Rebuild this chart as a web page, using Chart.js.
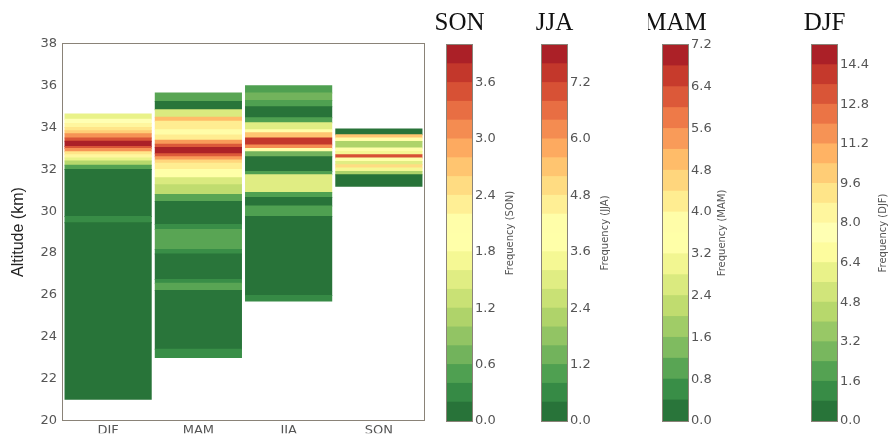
<!DOCTYPE html>
<html>
<head>
<meta charset="utf-8">
<script src="https://cdn.jsdelivr.net/npm/chart.js@4.4.0/dist/chart.umd.min.js"></script>
<style>
  body { margin: 0; background: #fff; }
  #wrap { position: relative; width: 892px; height: 434px; overflow: hidden; }
  canvas { position: absolute; top: 0; }
</style>
</head>
<body>
<div id="wrap">
  <canvas id="main" width="432" height="434" style="left:0px"></canvas>
  <canvas id="cbSON" width="95" height="434" style="left:432px"></canvas>
  <canvas id="cbJJA" width="95" height="434" style="left:527px"></canvas>
  <canvas id="cbMAM" width="95" height="434" style="left:648px"></canvas>
  <canvas id="cbDJF" width="95" height="434" style="left:797px"></canvas>
</div>
<script>
// columns of the main plot
const seasons = ["DJF", "MAM", "JJA", "SON"];

// altitude band edges (km, bottom to top) and frequency inside each band
const djfEdges = [21.0, 29.45, 29.75, 32.0, 32.2, 32.4, 32.55, 32.7, 32.85, 33.0, 33.1, 33.35, 33.5, 33.7, 33.85, 34.0, 34.2, 34.4, 34.65];
const djfFreq = [0.4, 1.2, 0.4, 2.0, 4.0, 6.0, 8.0, 9.5, 11.5, 13.0, 14.8, 13.5, 11.8, 10.0, 8.8, 8.0, 7.2, 6.0];

const mamEdges = [23.0, 23.4, 26.2, 26.55, 26.73, 27.95, 28.17, 29.12, 29.36, 30.46, 30.8, 31.27, 31.6, 32.0, 32.3, 32.45, 32.6, 32.75, 33.05, 33.2, 33.4, 33.65, 33.9, 34.3, 34.5, 34.85, 35.25, 35.65];
const mamFreq = [0.7, 0.2, 0.9, 0.6, 0.2, 0.5, 1.0, 0.5, 0.2, 1.2, 2.2, 2.8, 3.4, 4.0, 4.8, 5.6, 6.2, 7.0, 6.2, 5.4, 4.0, 3.6, 4.0, 5.0, 2.8, 0.2, 0.9];

const jjaEdges = [25.7, 25.97, 29.75, 30.25, 30.65, 30.9, 31.75, 31.9, 32.6, 32.85, 33.0, 33.17, 33.5, 33.75, 33.9, 34.23, 34.47, 35.0, 35.3, 35.65, 36.0];
const jjaFreq = [0.6, 0.3, 1.0, 0.3, 1.2, 3.0, 1.2, 0.3, 1.4, 4.2, 6.0, 7.6, 5.6, 4.0, 3.0, 1.2, 0.3, 0.9, 1.3, 1.1];

const sonEdges = [31.19, 31.75, 31.9, 32.07, 32.22, 32.38, 32.54, 32.7, 32.86, 33.02, 33.34, 33.5, 33.66, 33.93];
const sonFreq = [0.1, 1.0, 1.7, 2.5, 1.5, 1.9, 3.4, 1.6, 2.0, 1.0, 2.0, 2.6, 0.1];

// colour bar scales, in the order of the seasons array
const cbMax = [15.2, 7.2, 8.0, 4.0];
const cbLevels = [19, 18, 20, 20];
const cbTickStep = [1.6, 0.8, 1.2, 0.6];

// altitude axis
const altMin = 20, altMax = 38, altStep = 2;

// RdYlGn reversed
const rdylgnR = ["#006837", "#1a9850", "#66bd63", "#a6d96a", "#d9ef8b", "#ffffbf",
                 "#fee08b", "#fdae61", "#f46d43", "#d73027", "#a50026"];

function hexRgb(h) {
  return [parseInt(h.substr(1, 2), 16), parseInt(h.substr(3, 2), 16), parseInt(h.substr(5, 2), 16)];
}

// the picture is washed out and a bit warm, so pull colours to grey and cut some blue
function cmap(t) {
  const pos = Math.min(Math.max(t, 0), 1) * (rdylgnR.length - 1);
  const i = Math.min(Math.floor(pos), rdylgnR.length - 2);
  const f = pos - i;
  const a = hexRgb(rdylgnR[i]), b = hexRgb(rdylgnR[i + 1]);
  const c = a.map((v, k) => v + (b[k] - v) * f);
  const lum = 0.299 * c[0] + 0.587 * c[1] + 0.114 * c[2];
  const lift = [18, 8, 0];
  const out = c.map((v, k) => Math.min(255, 0.78 * v + 0.22 * lum + lift[k]));
  out[2] *= 0.88;
  return "rgb(" + out.map(v => Math.round(v)).join(",") + ")";
}

function levelColor(v, vmax, n) {
  let i = Math.floor(v / (vmax / n));
  i = Math.min(Math.max(i, 0), n - 1);
  return cmap((i + 0.5) / n);
}

// thin grey box round the plot area
const frame = {
  id: "frame",
  afterDatasetsDraw(chart) {
    const { ctx, chartArea: a } = chart;
    ctx.save();
    ctx.strokeStyle = "#8a8378";
    ctx.lineWidth = 1;
    ctx.strokeRect(Math.round(a.left) - 0.5, Math.round(a.top) - 0.5,
                   Math.round(a.right - a.left) + 1, Math.round(a.bottom - a.top) + 1);
    ctx.restore();
  }
};

// main plot
const bands = [
  { edges: djfEdges, freq: djfFreq },
  { edges: mamEdges, freq: mamFreq },
  { edges: jjaEdges, freq: jjaFreq },
  { edges: sonEdges, freq: sonFreq }
];

const mainSets = [];
bands.forEach((s, col) => {
  s.freq.forEach((f, i) => {
    const data = seasons.map(() => null);
    data[col] = [s.edges[i], s.edges[i + 1]];
    mainSets.push({
      data: data,
      backgroundColor: levelColor(f, cbMax[col], cbLevels[col]),
      borderWidth: 0,
      inflateAmount: 0.5,
      categoryPercentage: 1,
      barPercentage: 0.955
    });
  });
});

new Chart(document.getElementById("main"), {
  type: "bar",
  data: { labels: seasons, datasets: mainSets },
  options: {
    responsive: false,
    animation: false,
    devicePixelRatio: 1,
    layout: { padding: { left: 0, top: 44, right: 8, bottom: 0 } },
    plugins: { legend: { display: false }, tooltip: { enabled: false } },
    scales: {
      x: {
        stacked: true,
        grid: { display: false, drawTicks: false },
        border: { display: false },
        ticks: { color: "#555", padding: 3, font: { family: "DejaVu Sans", size: 13 } },
        afterFit: s => { s.height = 13; }
      },
      y: {
        min: altMin,
        max: altMax,
        grid: { display: false, drawTicks: false },
        border: { display: false },
        ticks: { stepSize: altStep, color: "#555", padding: 6, font: { family: "DejaVu Sans", size: 13 } },
        title: {
          display: true,
          text: "Altitude (km)",
          color: "#222",
          padding: { top: 9, bottom: 0 },
          font: { family: "Liberation Sans", size: 16 }
        },
        afterFit: s => { s.width = 63; }
      }
    }
  },
  plugins: [frame]
});

// colour bars: title above and rotated label on the right
const cbText = {
  id: "cbText",
  afterDraw(chart, args, opts) {
    const { ctx, chartArea: a } = chart;
    ctx.save();
    ctx.fillStyle = "#111";
    ctx.textAlign = "center";
    ctx.textBaseline = "middle";
    ctx.font = '25px "Liberation Serif"';
    ctx.fillText(opts.title, (a.left + a.right) / 2, 23);
    ctx.translate(opts.labelX, (a.top + a.bottom) / 2);
    ctx.rotate(-Math.PI / 2);
    ctx.fillStyle = "#555";
    ctx.font = '10px "DejaVu Sans"';
    ctx.fillText("Frequency (" + opts.title + ")", 0, 0);
    ctx.restore();
  }
};

const cbCanvas = { DJF: "cbDJF", MAM: "cbMAM", JJA: "cbJJA", SON: "cbSON" };
const cbLabelX = { DJF: 86, MAM: 74, JJA: 78, SON: 78 };

seasons.forEach((name, k) => {
  const step = cbMax[k] / cbLevels[k];
  const sets = [];
  for (let i = 0; i < cbLevels[k]; i++) {
    sets.push({
      data: [[i * step, (i + 1) * step]],
      backgroundColor: cmap((i + 0.5) / cbLevels[k]),
      borderWidth: 0,
      inflateAmount: 0.5,
      categoryPercentage: 1,
      barPercentage: 1
    });
  }
  new Chart(document.getElementById(cbCanvas[name]), {
    type: "bar",
    data: { labels: [name], datasets: sets },
    options: {
      responsive: false,
      animation: false,
      devicePixelRatio: 1,
      layout: { padding: { left: 15, top: 45, right: 0, bottom: 13 } },
      plugins: {
        legend: { display: false },
        tooltip: { enabled: false },
        cbText: { title: name, labelX: cbLabelX[name] }
      },
      scales: {
        x: { stacked: true, display: false },
        y: {
          position: "right",
          min: 0,
          max: cbMax[k],
          grid: { display: false, drawTicks: false },
          border: { display: false },
          ticks: {
            stepSize: cbTickStep[k],
            includeBounds: false,
            padding: 3,
            color: "#555",
            font: { family: "DejaVu Sans", size: 13 },
            callback: v => Number(v).toFixed(1)
          },
          afterFit: s => { s.width = 55; }
        }
      }
    },
    plugins: [frame, cbText]
  });
});
</script>
</body>
</html>
